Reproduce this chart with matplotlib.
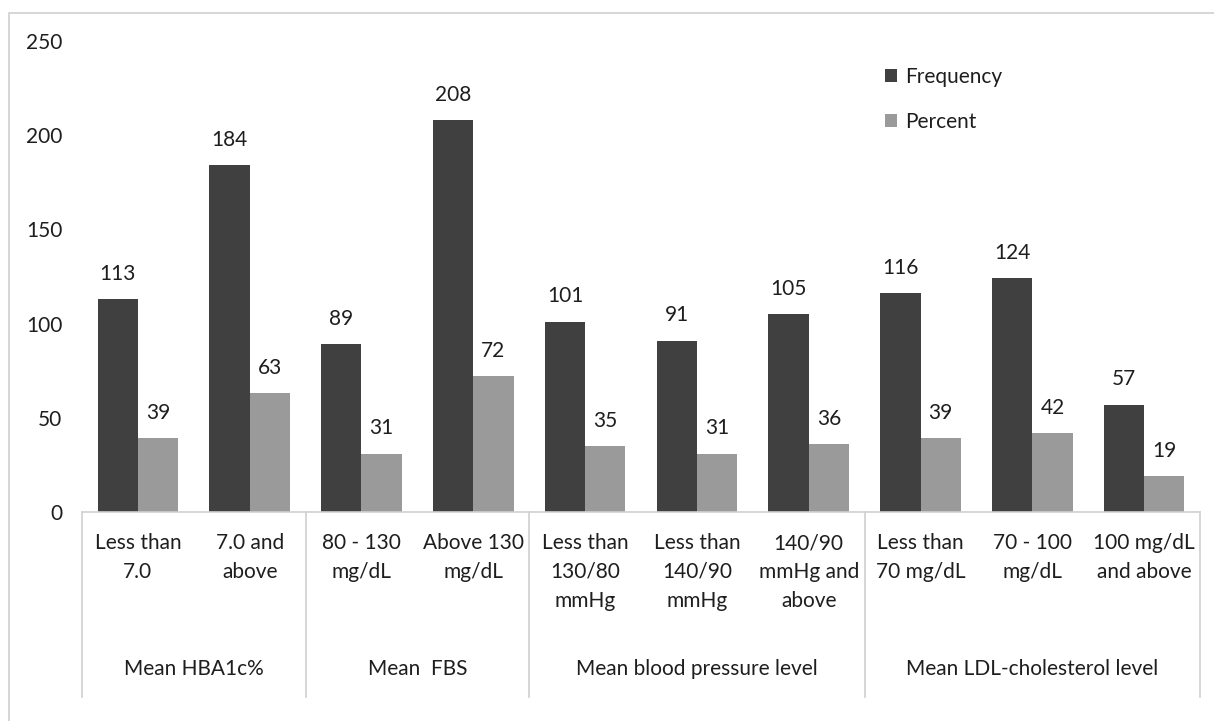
import matplotlib.pyplot as plt
import numpy as np
from matplotlib.patches import Rectangle

plt.rcParams['font.family'] = ['Lato', 'DejaVu Sans']

categories = ["Less than\n7.0", "7.0 and\nabove", "80 - 130\nmg/dL", "Above 130\nmg/dL",
              "Less than\n130/80\nmmHg", "Less than\n140/90\nmmHg", "140/90\nmmHg and\nabove",
              "Less than\n70 mg/dL", "70 - 100\nmg/dL", "100 mg/dL\nand above"]
groups = ["Mean HBA1c%", "Mean  FBS", "Mean blood pressure level", "Mean LDL-cholesterol level"]
group_sizes = [2, 2, 3, 3]
frequency = [113, 184, 89, 208, 101, 91, 105, 116, 124, 57]
percent = [39, 63, 31, 72, 35, 31, 36, 39, 42, 19]

txt = '#1e1e1e'
fs = 15

fig = plt.figure(figsize=(12.14, 7.21), dpi=100)
ax = fig.add_axes([0.0675, 0.29, 0.921, 0.653])

# outer border
fig.patches.append(Rectangle((9/1214, -0.1), 1.2, 1 - 13/721 + 0.1, transform=fig.transFigure,
                             fill=False, edgecolor='#d0d0d0', linewidth=1.2))

x = np.arange(len(categories))
w = 0.36
b1 = ax.bar(x - w/2, frequency, w, color='#404040', label='Frequency')
b2 = ax.bar(x + w/2, percent, w, color='#9a9a9a', label='Percent')

for bars in (b1, b2):
    for r in bars:
        ax.annotate(f"{int(r.get_height())}", (r.get_x() + r.get_width()/2, r.get_height()),
                    xytext=(0, 11), textcoords='offset points', ha='center', va='bottom',
                    fontsize=fs, color=txt)

ax.set_xlim(-0.5, len(categories) - 0.5)
ax.set_ylim(0, 250)
ax.set_yticks(range(0, 251, 50))
ax.tick_params(axis='y', length=0, pad=14, labelsize=fs, labelcolor=txt)
ax.set_xticks([])
for s in ['top', 'right', 'left']:
    ax.spines[s].set_visible(False)
ax.spines['bottom'].set_color('#d0d0d0')
ax.spines['bottom'].set_linewidth(1.2)

# category labels
for i, c in enumerate(categories):
    ax.text(i, -0.045, c, transform=ax.get_xaxis_transform(), ha='center', va='top',
            fontsize=fs, color=txt, linespacing=1.55)

# group labels and separators
start = 0
edges = [-0.5]
for g, n in zip(groups, group_sizes):
    ax.text(start + (n - 1) / 2, -0.333, g, transform=ax.get_xaxis_transform(),
            ha='center', va='center', fontsize=fs, color=txt)
    start += n
    edges.append(start - 0.5)
for e in edges:
    ax.plot([e, e], [0, -0.393], transform=ax.get_xaxis_transform(), color='#d0d0d0',
            linewidth=1.2, clip_on=False)

ax.legend(loc='upper left', bbox_to_anchor=(866/1214, 1 - 48/721), bbox_transform=fig.transFigure,
          frameon=False, fontsize=fs, handlelength=0.6, handleheight=0.6, labelspacing=1.2,
          handletextpad=0.4, labelcolor=txt)

fig.savefig('out.png', dpi=100)
